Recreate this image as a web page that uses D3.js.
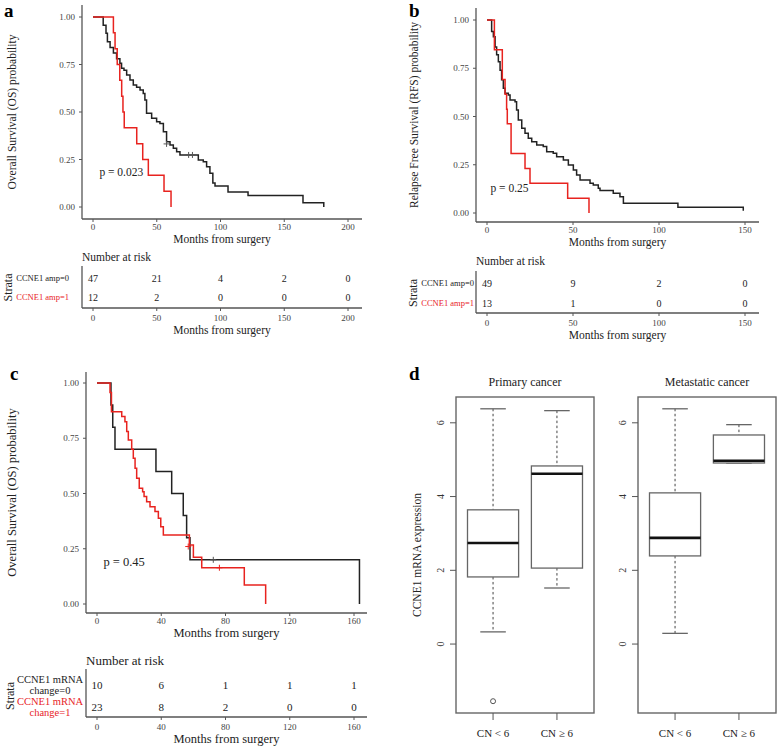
<!DOCTYPE html>
<html>
<head>
<meta charset="utf-8">
<script src="https://cdn.jsdelivr.net/npm/d3@7"></script>
<style>
  body { margin: 0; background: #fff; }
  svg { font-family: "Liberation Serif", "Times New Roman", serif; }
</style>
</head>
<body>
<svg width="778" height="751"></svg>
<script>
// ---- data ----
// panel a : OS by CCNE1 amplification
const aBlackT = [8, 10.2, 11.3, 13.4, 16, 18.5, 21.1, 22.4, 24.3, 26.4, 29, 31.6, 34.2, 36.9, 39.4, 40.7, 42, 46, 49.9, 52.5, 55.2, 57.7, 60.4, 63, 65.6, 68.2, 82.6, 86.5, 89.1, 91.7, 94, 95.7, 105.9, 121.6, 164.7, 181];
const aBlackS = [0.957, 0.914, 0.87, 0.84, 0.81, 0.78, 0.756, 0.73, 0.72, 0.695, 0.668, 0.642, 0.63, 0.616, 0.598, 0.563, 0.493, 0.467, 0.449, 0.44, 0.396, 0.344, 0.326, 0.309, 0.291, 0.274, 0.247, 0.238, 0.212, 0.177, 0.126, 0.11, 0.079, 0.06, 0.023, 0];
const aRedT = [16, 17.3, 19, 21, 22.5, 23.5, 24.5, 34.3, 39, 43.4, 55.7, 61.2];
const aRedS = [0.917, 0.833, 0.75, 0.667, 0.583, 0.5, 0.417, 0.333, 0.25, 0.167, 0.083, 0];
const aCensorBlack = [[57.7, 0.332], [75, 0.274], [78, 0.274]];
const aRisk0 = [47, 21, 4, 2, 0];
const aRisk1 = [12, 2, 0, 0, 0];
const aTicks = [0, 50, 100, 150, 200];

// panel b : RFS by CCNE1 amplification
const bBlackT = [2.7, 3.7, 4.7, 5.6, 6.6, 7.6, 8.5, 9.5, 10.5, 12.4, 13.4, 16.3, 17.2, 18.2, 20.2, 22.1, 24, 26, 28.9, 32.7, 34.7, 38.5, 40.5, 44.4, 47.3, 50.2, 52.1, 54.1, 59.9, 61.8, 64.7, 65.7, 73.4, 77.3, 79.3, 111, 149];
const bBlackS = [0.94, 0.913, 0.86, 0.82, 0.784, 0.74, 0.69, 0.646, 0.62, 0.611, 0.585, 0.577, 0.534, 0.482, 0.439, 0.413, 0.387, 0.369, 0.352, 0.344, 0.318, 0.309, 0.292, 0.275, 0.249, 0.223, 0.197, 0.171, 0.154, 0.145, 0.128, 0.116, 0.102, 0.084, 0.05, 0.03, 0.012];
const bRedT = [4.3, 8.9, 10.5, 11.4, 11.8, 14, 22.1, 25, 46.9, 59.3];
const bRedS = [0.846, 0.692, 0.615, 0.538, 0.462, 0.308, 0.231, 0.154, 0.077, 0];
const bRisk0 = [49, 9, 2, 0];
const bRisk1 = [13, 1, 0, 0];
const bTicks = [0, 50, 100, 150];

// panel c : OS by CCNE1 mRNA change
const cBlackT = [8.7, 9.8, 11.2, 36.7, 46.5, 53.7, 55.8, 57.9, 163.4];
const cBlackS = [0.9, 0.8, 0.7, 0.6, 0.5, 0.4, 0.3, 0.2, 0];
const cRedT = [8.1, 9, 15.4, 17.4, 18.5, 19.5, 21.6, 22.6, 23.7, 24.7, 26.3, 28.4, 29.3, 30.9, 33, 36.1, 38.2, 39.7, 41.3, 57.5, 60, 65.2, 91.7, 105];
const cRedS = [0.957, 0.87, 0.848, 0.825, 0.78, 0.742, 0.7, 0.66, 0.614, 0.569, 0.524, 0.508, 0.486, 0.463, 0.44, 0.418, 0.388, 0.35, 0.312, 0.267, 0.211, 0.164, 0.086, 0];
const cCensorBlack = [[72.4, 0.2]];
const cCensorRed = [[56.8, 0.26], [76.2, 0.164]];
const cRisk0 = [10, 6, 1, 1, 1];
const cRisk1 = [23, 8, 2, 0, 0];
const cTicks = [0, 40, 80, 120, 160];

// panel d : boxplots [whiskerLow, q1, median, q3, whiskerHigh]
const groups = ["CN < 6", "CN \u2265 6"];
const primaryBox = [[0.33, 1.82, 2.74, 3.64, 6.38], [1.52, 2.06, 4.62, 4.83, 6.33]];
const primaryOut = [[0, -1.55]];
const metaBox = [[0.29, 2.39, 2.88, 4.10, 6.38], [4.91, 4.91, 4.97, 5.67, 5.95]];
const metaOut = [];
const yTicksD = [0, 2, 4, 6];

const survTicks = [0, 0.25, 0.5, 0.75, 1];
const RED = "#e8231f", BLACK = "#222", AX = "#555";

const svg = d3.select("svg");

function stepPath(x, y, T, S) {
  let p = d3.path();
  p.moveTo(x(0), y(1));
  T.forEach((t, i) => {
    p.lineTo(x(t), y(i === 0 ? 1 : S[i - 1]));
    p.lineTo(x(t), y(S[i]));
  });
  return p.toString();
}

function plus(g, cx, cy, col) {
  g.append("path").attr("d", `M${cx - 3},${cy}H${cx + 3}M${cx},${cy - 3}V${cy + 3}`).attr("stroke", col).attr("stroke-width", 1);
}

function kmPanel(o) {
  const g = svg.append("g");
  const x = d3.scaleLinear().domain(o.xDom).range(o.xRange);
  const y = d3.scaleLinear().domain([0, 1]).range(o.yRange);

  // axis lines (left + bottom only)
  g.append("line").attr("x1", o.box[0]).attr("x2", o.box[0]).attr("y1", o.box[2]).attr("y2", o.box[3]).attr("stroke", AX).attr("stroke-width", 1.3);
  g.append("line").attr("x1", o.box[0]).attr("x2", o.box[1]).attr("y1", o.box[3]).attr("y2", o.box[3]).attr("stroke", AX).attr("stroke-width", 1.3);

  survTicks.forEach(v => {
    g.append("line").attr("x1", o.box[0] - 3).attr("x2", o.box[0]).attr("y1", y(v)).attr("y2", y(v)).attr("stroke", AX);
    g.append("text").attr("x", o.box[0] - 7).attr("y", y(v)).attr("text-anchor", "end")
      .attr("dominant-baseline", "central").attr("font-size", 9).attr("fill", "#444").text(v.toFixed(2));
  });
  o.ticks.forEach(v => {
    g.append("line").attr("x1", x(v)).attr("x2", x(v)).attr("y1", o.box[3]).attr("y2", o.box[3] + 3).attr("stroke", AX);
    g.append("text").attr("x", x(v)).attr("y", o.box[3] + 8).attr("text-anchor", "middle")
      .attr("dominant-baseline", "central").attr("font-size", 9).attr("fill", "#444").text(v);
  });
  g.append("text").attr("x", (o.box[0] + o.box[1]) / 2).attr("y", o.box[3] + 20).attr("text-anchor", "middle")
    .attr("dominant-baseline", "central").attr("font-size", o.fs).attr("fill", "#222").text("Months from surgery");
  g.append("text").attr("transform", `translate(${o.ylabX},${(o.box[2] + o.box[3]) / 2}) rotate(-90)`)
    .attr("text-anchor", "middle").attr("dominant-baseline", "central").attr("font-size", o.fs).attr("fill", "#222").text(o.ylab);

  // curves
  g.append("path").attr("d", stepPath(x, y, o.blackT, o.blackS)).attr("fill", "none").attr("stroke", BLACK).attr("stroke-width", 1.5);
  g.append("path").attr("d", stepPath(x, y, o.redT, o.redS)).attr("fill", "none").attr("stroke", RED).attr("stroke-width", 1.5);
  (o.censorBlack || []).forEach(c => plus(g, x(c[0]), y(c[1]), "#555"));
  (o.censorRed || []).forEach(c => plus(g, x(c[0]), y(c[1]), RED));

  g.append("text").attr("x", x(o.pPos[0])).attr("y", y(o.pPos[1])).attr("dominant-baseline", "central")
    .attr("font-size", o.fs).attr("fill", "#222").text(o.p);

  g.append("text").attr("x", o.letter[0]).attr("y", o.letter[1]).attr("font-size", 19).attr("font-weight", "bold").text(o.letterText);

  // risk table
  const r = o.risk;
  g.append("text").attr("x", o.box[0]).attr("y", r.title).attr("dominant-baseline", "central").attr("font-size", r.fsTitle).attr("fill", "#222").text("Number at risk");
  g.append("line").attr("x1", o.box[0]).attr("x2", o.box[0]).attr("y1", r.top).attr("y2", r.bottom).attr("stroke", AX).attr("stroke-width", 1.3);
  g.append("line").attr("x1", o.box[0]).attr("x2", o.box[1]).attr("y1", r.bottom).attr("y2", r.bottom).attr("stroke", AX).attr("stroke-width", 1.3);
  o.ticks.forEach((v, i) => {
    g.append("line").attr("x1", x(v)).attr("x2", x(v)).attr("y1", r.bottom).attr("y2", r.bottom + 3).attr("stroke", AX);
    g.append("text").attr("x", x(v)).attr("y", r.bottom + 10).attr("text-anchor", "middle")
      .attr("dominant-baseline", "central").attr("font-size", 9).attr("fill", "#444").text(v);
    g.append("text").attr("x", x(v)).attr("y", r.rows[0]).attr("text-anchor", "middle")
      .attr("dominant-baseline", "central").attr("font-size", r.fsNum).attr("fill", "#222").text(o.risk0[i]);
    g.append("text").attr("x", x(v)).attr("y", r.rows[1]).attr("text-anchor", "middle")
      .attr("dominant-baseline", "central").attr("font-size", r.fsNum).attr("fill", "#222").text(o.risk1[i]);
  });
  g.append("text").attr("x", (o.box[0] + o.box[1]) / 2).attr("y", r.bottom + 22).attr("text-anchor", "middle")
    .attr("dominant-baseline", "central").attr("font-size", o.fs).attr("fill", "#222").text("Months from surgery");
  g.append("text").attr("transform", `translate(${r.strataX},${(r.rows[0] + r.rows[1]) / 2}) rotate(-90)`)
    .attr("text-anchor", "middle").attr("dominant-baseline", "central").attr("font-size", 12).attr("fill", "#222").text("Strata");
  r.labels.forEach((lab, k) => {
    const t = g.append("text").attr("x", r.labX).attr("text-anchor", r.labAnchor)
      .attr("font-size", r.fsLab).attr("fill", k === 0 ? "#222" : RED);
    lab.forEach((line, j) => {
      t.append("tspan").attr("x", r.labX).attr("y", r.rows[k] + (j - (lab.length - 1) / 2) * r.labLH)
        .attr("dominant-baseline", "central").text(line);
    });
  });
}

kmPanel({
  xDom: [0, 200], xRange: [93, 348], yRange: [207, 17], box: [82, 362, 5, 219],
  ticks: aTicks, ylab: "Overall Survival (OS) probability", ylabX: 12, fs: 11.5,
  blackT: aBlackT, blackS: aBlackS, redT: aRedT, redS: aRedS, censorBlack: aCensorBlack,
  p: "p = 0.023", pPos: [5, 0.185], letter: [4, 17], letterText: "a",
  risk0: aRisk0, risk1: aRisk1,
  risk: { title: 257, top: 266, bottom: 308, rows: [278, 297], fsTitle: 11.5, fsNum: 10, strataX: 8,
    labels: [["CCNE1 amp=0"], ["CCNE1 amp=1"]], labX: 69, labAnchor: "end", fsLab: 8.5, labLH: 0 }
});

kmPanel({
  xDom: [0, 150], xRange: [487, 745], yRange: [213, 20], box: [476, 759, 8, 222],
  ticks: bTicks, ylab: "Relapse Free Survival (RFS) probability", ylabX: 414, fs: 11.5,
  blackT: bBlackT, blackS: bBlackS, redT: bRedT, redS: bRedS,
  p: "p = 0.25", pPos: [2, 0.13], letter: [409, 17], letterText: "b",
  risk0: bRisk0, risk1: bRisk1,
  risk: { title: 261, top: 271, bottom: 313, rows: [283, 303], fsTitle: 11.5, fsNum: 10, strataX: 413,
    labels: [["CCNE1 amp=0"], ["CCNE1 amp=1"]], labX: 474, labAnchor: "end", fsLab: 8.5, labLH: 0 }
});

kmPanel({
  xDom: [0, 160], xRange: [97, 354], yRange: [604, 383], box: [86, 367, 372, 613],
  ticks: cTicks, ylab: "Overall Survival (OS) probability", ylabX: 12, fs: 12.5,
  blackT: cBlackT, blackS: cBlackS, redT: cRedT, redS: cRedS, censorBlack: cCensorBlack, censorRed: cCensorRed,
  p: "p = 0.45", pPos: [4, 0.19], letter: [10, 380], letterText: "c",
  risk0: cRisk0, risk1: cRisk1,
  risk: { title: 660, top: 669, bottom: 717, rows: [685, 707], fsTitle: 13, fsNum: 11, strataX: 10,
    labels: [["CCNE1 mRNA", "change=0"], ["CCNE1 mRNA", "change=1"]], labX: 50, labAnchor: "middle", fsLab: 10.5, labLH: 11 }
});

// ---- panel d ----
svg.append("text").attr("x", 409).attr("y", 380).attr("font-size", 19).attr("font-weight", "bold").text("d");
svg.append("text").attr("transform", "translate(417,555) rotate(-90)").attr("text-anchor", "middle")
  .attr("dominant-baseline", "central").attr("font-size", 11.5).attr("fill", "#222").text("CCNE1 mRNA expression");

function boxPanel(left, right, title, boxes, outs) {
  const g = svg.append("g");
  const x = d3.scaleLinear().domain([0.42, 2.58]).range([left, right]);
  const y = d3.scaleLinear().domain([-1.87, 6.70]).range([713, 397]);
  g.append("rect").attr("x", left).attr("y", 397).attr("width", right - left).attr("height", 316)
    .attr("fill", "none").attr("stroke", "#666").attr("stroke-width", 1.4);
  g.append("text").attr("x", (left + right) / 2).attr("y", 382).attr("text-anchor", "middle")
    .attr("dominant-baseline", "central").attr("font-size", 12).attr("fill", "#222").text(title);
  yTicksD.forEach(v => {
    g.append("line").attr("x1", left - 6).attr("x2", left).attr("y1", y(v)).attr("y2", y(v)).attr("stroke", "#555");
    g.append("text").attr("transform", `translate(${left - 16},${y(v)}) rotate(-90)`).attr("text-anchor", "middle")
      .attr("dominant-baseline", "central").attr("font-size", 10).attr("fill", "#333").text(v);
  });
  groups.forEach((name, i) => {
    const cx = x(i + 1), hw = (x(1.4) - x(1)), cw = hw / 2, b = boxes[i];
    g.append("line").attr("x1", cx).attr("x2", cx).attr("y1", 713).attr("y2", 720).attr("stroke", "#555");
    g.append("text").attr("x", cx).attr("y", 733).attr("text-anchor", "middle").attr("dominant-baseline", "central")
      .attr("font-size", 11).attr("fill", "#222").text(name);
    g.append("line").attr("x1", cx).attr("x2", cx).attr("y1", y(b[4])).attr("y2", y(b[3])).attr("stroke", "#444").attr("stroke-dasharray", "2.5,2.5");
    g.append("line").attr("x1", cx).attr("x2", cx).attr("y1", y(b[1])).attr("y2", y(b[0])).attr("stroke", "#444").attr("stroke-dasharray", "2.5,2.5");
    g.append("line").attr("x1", cx - cw).attr("x2", cx + cw).attr("y1", y(b[4])).attr("y2", y(b[4])).attr("stroke", "#666").attr("stroke-width", 1.3);
    g.append("line").attr("x1", cx - cw).attr("x2", cx + cw).attr("y1", y(b[0])).attr("y2", y(b[0])).attr("stroke", "#666").attr("stroke-width", 1.3);
    g.append("rect").attr("x", cx - hw).attr("y", y(b[3])).attr("width", 2 * hw).attr("height", y(b[1]) - y(b[3]))
      .attr("fill", "#fff").attr("stroke", "#666").attr("stroke-width", 1.3);
    g.append("line").attr("x1", cx - hw).attr("x2", cx + hw).attr("y1", y(b[2])).attr("y2", y(b[2])).attr("stroke", "#111").attr("stroke-width", 2.6);
  });
  outs.forEach(o => {
    g.append("circle").attr("cx", x(o[0] + 1)).attr("cy", y(o[1])).attr("r", 2.5).attr("fill", "none").attr("stroke", "#555");
  });
}
boxPanel(456, 594, "Primary cancer", primaryBox, primaryOut);
boxPanel(638, 776, "Metastatic cancer", metaBox, metaOut);
</script>
</body>
</html>
